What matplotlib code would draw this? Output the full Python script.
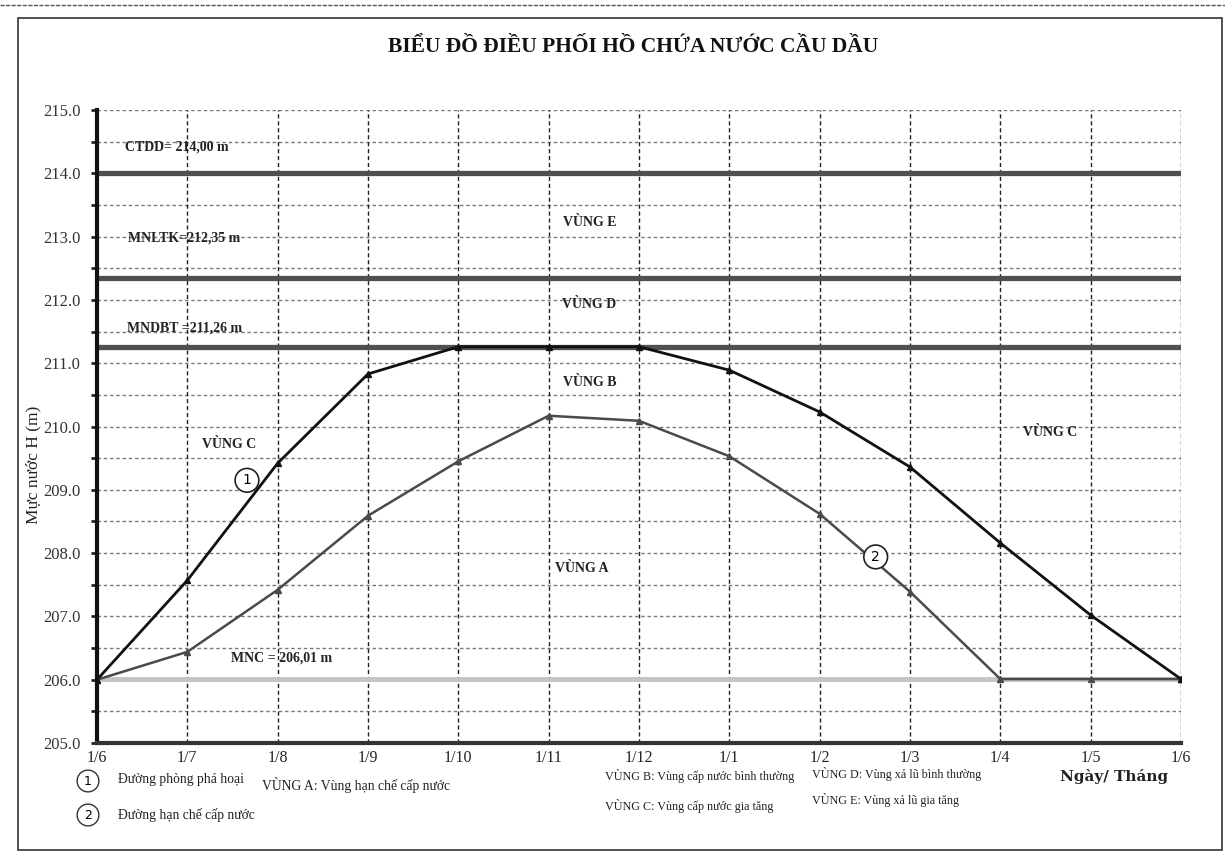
import matplotlib
matplotlib.use("Agg")
import matplotlib.pyplot as plt
from matplotlib.patches import Rectangle
import numpy as np

plt.rcParams['font.family'] = ['Liberation Serif', 'DejaVu Serif']

# ---- data ----
months = ['1/6', '1/7', '1/8', '1/9', '1/10', '1/11', '1/12', '1/1', '1/2', '1/3', '1/4', '1/5', '1/6']
line1 = [206.0, 207.57, 209.42, 210.83, 211.26, 211.26, 211.26, 210.89, 210.23, 209.36, 208.16, 207.02, 206.01]
line2 = [206.0, 206.44, 207.42, 208.59, 209.45, 210.17, 210.09, 209.53, 208.62, 207.39, 206.01, 206.01, 206.01]
level_names = ['CTDD', 'MNLTK', 'MNDBT', 'MNC']
level_values = [214.00, 212.35, 211.26, 206.01]
level_labels = ['CTDD= 214,00 m', 'MNLTK=212,35 m', 'MNDBT =211,26 m', 'MNC = 206,01 m']
zone_labels = ['VÙNG E', 'VÙNG D', 'VÙNG B', 'VÙNG C', 'VÙNG C', 'VÙNG A']
title = 'BIỂU ĐỒ ĐIỀU PHỐI HỒ CHỨA NƯỚC CẦU DẦU'
legend_lines = ['Đường phòng phá hoại', 'Đường hạn chế cấp nước']
legend_zones = ['VÙNG A: Vùng hạn chế cấp nước', 'VÙNG B: Vùng cấp nước bình thường',
                'VÙNG C: Vùng cấp nước gia tăng', 'VÙNG D: Vùng xả lũ bình thường',
                'VÙNG E: Vùng xả lũ gia tăng']

W, H = 1225, 855
fig = plt.figure(figsize=(W / 100, H / 100), dpi=100)
fig.patch.set_facecolor('white')

def fx(px):
    return px / W

def fy(py):
    return 1 - py / H

ax = fig.add_axes([fx(97), fy(743), fx(1181) - fx(97), fy(110) - fy(743)])
x = np.arange(len(months))
ax.set_xlim(0, len(months) - 1)
ax.set_ylim(205, 215)

# grid
for yv in np.arange(205.5, 215.01, 0.5):
    ax.axhline(yv, color='#7a7a7a', lw=1.0, ls=(0, (2.5, 2)), zorder=1)
for xv in x[1:]:
    ax.axvline(xv, color='#222222', lw=1.0, ls=(0, (3, 2)), zorder=1)

# level lines
for name, val in zip(level_names, level_values):
    if name == 'MNC':
        ax.axhline(val, color='#c4c4c4', lw=3.5, zorder=2)
    else:
        ax.axhline(val, color='#505050', lw=3.8, zorder=2)

# curves
ax.plot(x, line2, color='#4a4a4a', lw=1.8, marker='^', ms=4, zorder=4)
ax.plot(x, line1, color='#111111', lw=2.0, marker='^', ms=4, zorder=5)

# circled labels on curves
circ = dict(boxstyle='circle,pad=0.35', fc='white', ec='#222222', lw=1.2)
ax.text(1.66, 209.15, '1', ha='center', va='center', fontsize=10, bbox=circ, zorder=6,
        family=['DejaVu Sans'])
ax.text(8.62, 207.94, '2', ha='center', va='center', fontsize=10, bbox=circ, zorder=6,
        family=['DejaVu Sans'])

# level annotations
bold = dict(fontsize=10, fontweight='bold', color='#222222', zorder=6)
ax.text(0.31, 214.41, level_labels[0], ha='left', va='center', **bold)
ax.text(0.34, 212.98, level_labels[1], ha='left', va='center', **bold)
ax.text(0.33, 211.56, level_labels[2], ha='left', va='center', **bold)
ax.text(2.04, 206.34, level_labels[3], ha='center', va='center', **bold)

# zone annotations
ax.text(5.45, 213.23, zone_labels[0], ha='center', va='center', **bold)
ax.text(5.45, 211.92, zone_labels[1], ha='center', va='center', **bold)
ax.text(5.45, 210.69, zone_labels[2], ha='center', va='center', **bold)
ax.text(1.46, 209.71, zone_labels[3], ha='center', va='center', **bold)
ax.text(10.55, 209.90, zone_labels[4], ha='center', va='center', **bold)
ax.text(5.37, 207.76, zone_labels[5], ha='center', va='center', **bold)

# axes styling
for s in ['top', 'right']:
    ax.spines[s].set_visible(False)
ax.spines['left'].set_linewidth(3)
ax.spines['left'].set_color('#111111')
ax.spines['bottom'].set_linewidth(3)
ax.spines['bottom'].set_color('#333333')
ax.set_yticks(np.arange(205, 215.01, 1.0))
ax.set_yticklabels([f'{v:.1f}' for v in np.arange(205, 215.01, 1.0)], fontsize=12, color='#333333')
ax.set_yticks(np.arange(205.5, 215, 1.0), minor=True)
ax.tick_params(axis='y', which='both', direction='out', length=4, width=2, color='#222222', pad=8)
ax.set_xticks(x)
ax.set_xticklabels(months, fontsize=11.5, color='#222222')
ax.tick_params(axis='x', length=0, pad=5)

# y label
fig.text(fx(33), fy(465), 'Mực nước H (m)', rotation=90, ha='center', va='center', fontsize=12.5,
         color='#222222')

# title
fig.text(fx(633), fy(47), title, ha='center', va='center', fontsize=15.5, fontweight='bold',
         color='#111111')

# bottom legend
lcirc = dict(boxstyle='circle,pad=0.35', fc='white', ec='#333333', lw=1.0)
fig.text(fx(88), fy(781), '1', ha='center', va='center', fontsize=9, bbox=lcirc, family=['DejaVu Sans'])
fig.text(fx(88), fy(815), '2', ha='center', va='center', fontsize=9, bbox=lcirc, family=['DejaVu Sans'])
leg = dict(fontsize=9.8, color='#222222', va='center', ha='left')
leg2 = dict(fontsize=8.7, color='#222222', va='center', ha='left')
fig.text(fx(118), fy(780), legend_lines[0], **leg)
fig.text(fx(118), fy(815), legend_lines[1], **leg)
fig.text(fx(262), fy(785), legend_zones[0], **leg)
fig.text(fx(605), fy(776), legend_zones[1], **leg2)
fig.text(fx(605), fy(806), legend_zones[2], **leg2)
fig.text(fx(812), fy(774), legend_zones[3], **leg2)
fig.text(fx(812), fy(800), legend_zones[4], **leg2)
fig.text(fx(1060), fy(776), 'Ngày/ Tháng', fontsize=11, fontweight='bold', color='#222222',
         va='center', ha='left', family=['DejaVu Serif'])

# outer frame
fig.patches.append(Rectangle((fx(18), fy(850)), fx(1222) - fx(18), fy(18) - fy(850),
                             transform=fig.transFigure, fill=False, ec='#333333', lw=1.2))
fig.lines.append(plt.Line2D([0, 1], [fy(5), fy(5)], transform=fig.transFigure,
                            color='#555555', lw=1.0, ls=(0, (3, 1))))

fig.savefig('out.png', dpi=100)
